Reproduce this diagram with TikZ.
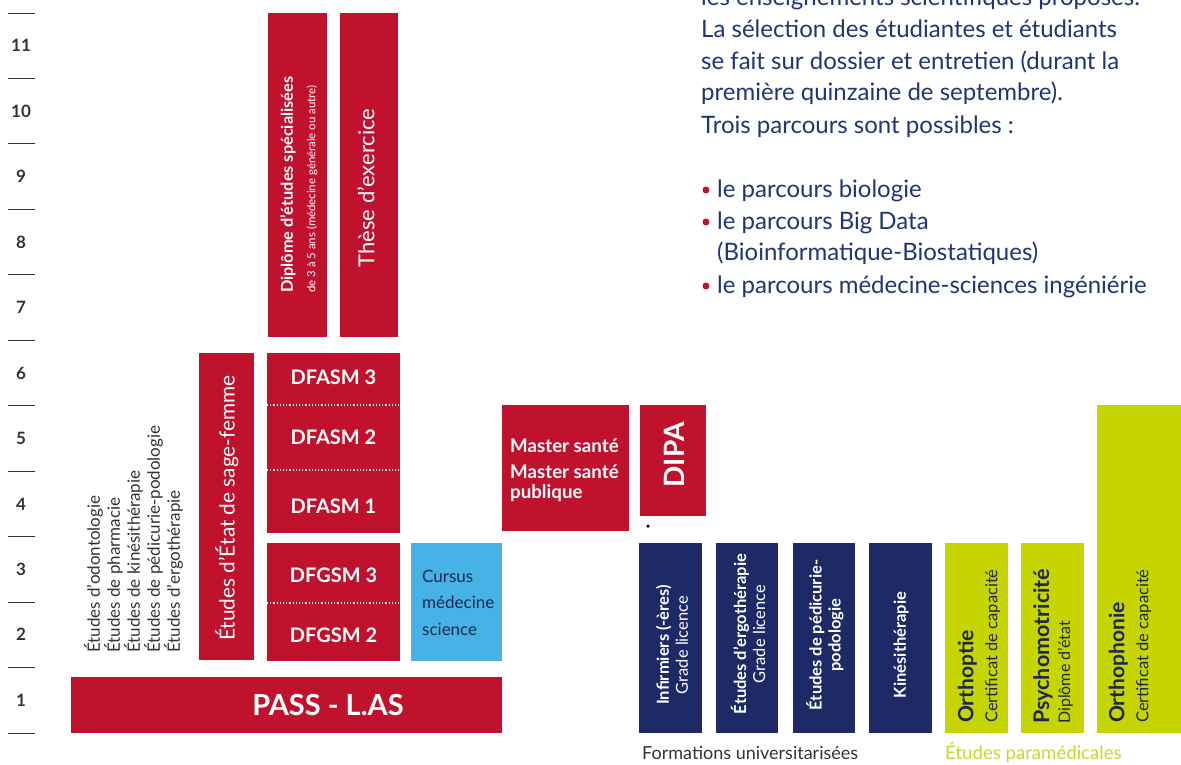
\documentclass[tikz,border=0pt]{standalone}
\usepackage{fontspec}
\setmainfont{Lato}
\definecolor{rouge}{HTML}{C0122C}
\definecolor{marine}{HTML}{1E2A66}
\definecolor{ciel}{HTML}{47B2E6}
\definecolor{citron}{HTML}{C6D400}
\definecolor{citrontxt}{HTML}{C9D630}
\definecolor{texte}{HTML}{1F3577}
\definecolor{gris}{HTML}{333333}
\definecolor{sombre}{HTML}{1D2850}
\newcommand{\fs}[2]{\fontsize{#1}{#2}\selectfont}
\begin{document}
\begin{tikzpicture}[x=1pt,y=-1pt,
  box/.style n args={2}{anchor=north west, inner sep=0pt, outer sep=0pt, minimum width=#1, minimum height=#2},
  wtxt/.style={text=white, inner sep=0pt},
  vtxt/.style={rotate=90, inner sep=0pt, align=center},
  para/.style={anchor=base west, inner sep=0pt, text=texte, font=\fs{24}{32}},
  tick/.style={draw=gris, line width=0.9pt},
  sep/.style={draw=white, dotted, line width=1.2pt}]
\useasboundingbox (0,0) rectangle (1181,764);
\clip (0,0) rectangle (1181,764);
\fill[white] (0,0) rectangle (1181,764);

% axis
\foreach \k in {0,...,11} {
  \coordinate (ta\k) at (8,13+65.45*\k);
  \coordinate (tb\k) at (35,13+65.45*\k);
  \draw[tick] (ta\k) -- (tb\k);
}
\foreach \k [evaluate=\k as \lab using int(11-\k)] in {0,...,10} {
  \node[text=gris, font=\bfseries\fs{17}{18}, inner sep=0pt] (num\k) at (21,13+65.45*\k+32.7) {\lab};
}

% top right text
\node[para] (p0) at (701,5) {les enseignements scientifiques proposés.};
\node[para] (p1) at (701,37) {La sélection des étudiantes et étudiants};
\node[para] (p2) at (701,69) {se fait sur dossier et entretien (durant la};
\node[para] (p3) at (701,100) {première quinzaine de septembre).};
\node[para] (p4) at (701,133) {Trois parcours sont possibles :};
\node[para] (b1) at (717,197) {le parcours biologie};
\node[para] (b2) at (717,229) {le parcours Big Data};
\node[para] (b3) at (717,260) {(Bioinformatique-Biostatiques)};
\node[para] (b4) at (717,293) {le parcours médecine-sciences ingéniérie};
\foreach \y/\n in {190/1,222/2,286/4} {
  \node[circle, fill=rouge, inner sep=0pt, minimum size=7pt] (dot\n) at (706,\y) {};
}

% red column blocks
\node[box={59}{324}, fill=rouge] (des) at (268,13) {};
\node[box={58}{324}, fill=rouge] (these) at (340,13) {};
\node[vtxt, anchor=west, wtxt, font=\bfseries\fs{16.3}{18}] (desa) at (288,293) {Diplôme d'études spécialisées};
\node[vtxt, anchor=west, wtxt, font=\fs{11.4}{13}] (desb) at (312,293) {de 3 à 5 ans (médecine générale ou autre)};
\node[vtxt, wtxt, font=\fs{22}{24}] (theset) at (366,188) {Thèse d'exercice};

\node[box={55}{307}, fill=rouge] (sage) at (199,353) {};
\node[vtxt, wtxt, font=\fs{20.8}{22}] (saget) at (227,508) {Études d'État de sage-femme};

\node[box={133}{180}, fill=rouge] (dfasm) at (267,353) {};
\coordinate (d1a) at (267,405); \coordinate (d1b) at (400,405);
\coordinate (d2a) at (267,470); \coordinate (d2b) at (400,470);
\draw[sep] (d1a) -- (d1b);
\draw[sep] (d2a) -- (d2b);
\node[wtxt, font=\bfseries\fs{20}{21}] (fa3) at (333.5,377) {DFASM 3};
\node[wtxt, font=\bfseries\fs{20}{21}] (fa2) at (333.5,437) {DFASM 2};
\node[wtxt, font=\bfseries\fs{20}{21}] (fa1) at (333.5,506) {DFASM 1};

\node[box={133}{118}, fill=rouge] (dfgsm) at (267,543) {};
\coordinate (d3a) at (267,603); \coordinate (d3b) at (400,603);
\draw[sep] (d3a) -- (d3b);
\node[wtxt, font=\bfseries\fs{20}{21}] (fg3) at (333.5,575) {DFGSM 3};
\node[wtxt, font=\bfseries\fs{20}{21}] (fg2) at (333.5,635) {DFGSM 2};

\node[box={91}{118}, fill=ciel] (cursus) at (411,543) {};
\node[anchor=base west, inner sep=0pt, text=sombre, font=\fs{17}{27}] (cu1) at (422,582) {Cursus};
\node[anchor=base west, inner sep=0pt, text=sombre, font=\fs{17}{27}] (cu2) at (422,608) {médecine};
\node[anchor=base west, inner sep=0pt, text=sombre, font=\fs{17}{27}] (cu3) at (422,635) {science};

\node[box={431}{56}, fill=rouge] (pass) at (71,677) {};
\node[wtxt, font=\bfseries\fs{29}{30}] (passt) at (328,705) {PASS - L.AS};

% left list
\node[rotate=90, anchor=north west, inner sep=0pt, align=left, text=gris, font=\fs{17}{20}] (liste) at (84,653)
  {Études d'odontologie\\Études de pharmacie\\Études de kinésithérapie\\Études de pédicurie-podologie\\Études d'ergothérapie};

% master / DIPA
\node[box={127}{126}, fill=rouge] (master) at (502,405) {};
\node[anchor=base west, wtxt, font=\bfseries\fs{18.7}{20}] (ma1) at (510,452) {Master santé};
\node[anchor=base west, wtxt, font=\bfseries\fs{18.7}{20}] (ma2) at (510,478) {Master santé};
\node[anchor=base west, wtxt, font=\bfseries\fs{18.7}{20}] (ma3) at (510,498) {publique};
\node[box={66}{111}, fill=rouge] (dipa) at (640,405) {};
\node[vtxt, wtxt, font=\bfseries\fs{28}{30}] (dipat) at (674,455) {DIPA};
\node[circle, fill=black, inner sep=0pt, minimum size=3.5pt] (star) at (648,526) {};

% navy blocks
\node[box={63}{190}, fill=marine] (inf) at (639,543) {};
\node[box={62}{190}, fill=marine] (ergo) at (716,543) {};
\node[box={62}{190}, fill=marine] (pedi) at (793,543) {};
\node[box={63}{190}, fill=marine] (kine) at (869,543) {};
\node[vtxt, wtxt, font=\fs{16.5}{19}] (inft) at (672,645) {\textbf{Infirmiers (-ères)}\\Grade licence};
\node[vtxt, wtxt, font=\fs{16.5}{19}] (ergot) at (748,634) {\textbf{Études d'ergothérapie}\\Grade licence};
\node[vtxt, wtxt, font=\bfseries\fs{16.5}{19}] (pedit) at (825,635) {Études de pédicurie-\\podologie};
\node[vtxt, wtxt, font=\bfseries\fs{16.5}{19}] (kinet) at (901,645) {Kinésithérapie};

% green blocks
\node[box={63}{190}, fill=citron] (orthoptie) at (945,543) {};
\node[box={63}{190}, fill=citron] (psycho) at (1021,543) {};
\node[box={90}{328}, fill=citron] (orthophonie) at (1097,405) {};
\node[vtxt, anchor=west, align=left, text=sombre, font=\fs{16.5}{24}] (ortht) at (979,723) {\textbf{\fs{21}{24}Orthoptie}\\Certificat de capacité};
\node[vtxt, anchor=west, align=left, text=sombre, font=\fs{16}{21}] (psyt) at (1053,724) {\textbf{\fs{21.5}{21}Psychomotricité}\\Diplôme d'état};
\node[vtxt, anchor=west, align=left, text=sombre, font=\fs{16.5}{24}] (orpht) at (1130,723) {\textbf{\fs{21}{24}Orthophonie}\\Certificat de capacité};

% bottom labels
\node[anchor=base west, inner sep=0pt, text=gris, font=\fs{18}{20}] (formu) at (642,759) {Formations universitarisées};
\node[anchor=base west, inner sep=0pt, text=citrontxt, font=\fs{18.6}{20}] (etpar) at (945,759) {Études paramédicales};
\end{tikzpicture}
\end{document}
